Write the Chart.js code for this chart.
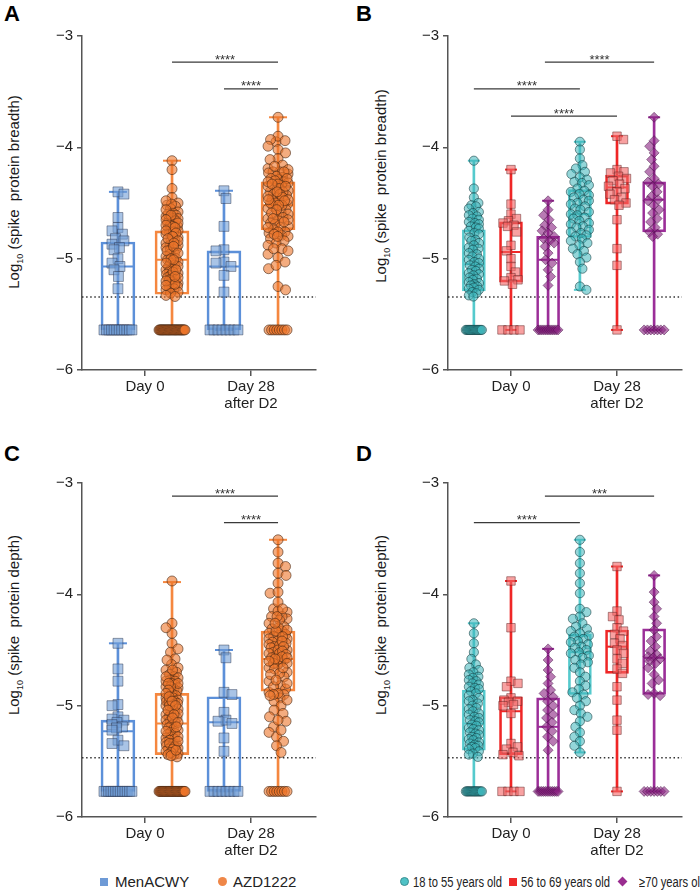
<!DOCTYPE html>
<html>
<head>
<meta charset="utf-8">
<script src="https://cdn.jsdelivr.net/npm/chart.js@4.4.0/dist/chart.umd.min.js"></script>
<style>
body { margin: 0; background: #fff; font-family: "Liberation Sans", Arial, sans-serif; }
#wrap { position: relative; width: 700px; height: 893px; overflow: hidden; }
canvas { position: absolute; }
.lt { position: absolute; font-weight: bold; font-size: 22px; color: #000; }
.yt { position: absolute; font-size: 15px; color: #1a1a1a; white-space: nowrap; transform: translate(-50%, -50%) rotate(-90deg); }
.yt sub { font-size: 9px; }
.lg { position: absolute; font-size: 15px; color: #222; white-space: nowrap; }
.nar { font-size: 14px; transform: scaleX(0.8); transform-origin: 0 50%; }
.mk { position: absolute; }
</style>
</head>
<body>
<div id="wrap">
  <div class="lt" style="left:4px;top:1px">A</div>
  <div class="lt" style="left:356px;top:1px">B</div>
  <div class="lt" style="left:4px;top:441px">C</div>
  <div class="lt" style="left:356px;top:441px">D</div>

  <div class="yt" style="left:15px;top:192px">Log<sub>10</sub> (spike&nbsp; protein breadth)</div>
  <div class="yt" style="left:382px;top:186px">Log<sub>10</sub> (spike&nbsp; protein breadth)</div>
  <div class="yt" style="left:15px;top:625px">Log<sub>10</sub> (spike&nbsp; protein depth)</div>
  <div class="yt" style="left:382px;top:625px">Log<sub>10</sub> (spike&nbsp; protein depth)</div>

  <canvas id="cA" width="350" height="420" style="left:0;top:0"></canvas>
  <canvas id="cB" width="350" height="420" style="left:350px;top:0"></canvas>
  <canvas id="cC" width="350" height="450" style="left:0;top:420px"></canvas>
  <canvas id="cD" width="350" height="450" style="left:350px;top:420px"></canvas>

  <!-- legends -->
  <div class="mk" style="left:100px;top:878px;width:8px;height:8px;background:#6e9ad6"></div>
  <div class="lg" style="left:115px;top:873px">MenACWY</div>
  <div class="mk" style="left:218px;top:877px;width:9px;height:9px;border-radius:50%;background:#ef8748"></div>
  <div class="lg" style="left:233px;top:873px">AZD1222</div>

  <div class="mk" style="left:400px;top:877px;width:9px;height:9px;border-radius:50%;background:#4fc2c6;box-sizing:border-box;border:1px solid #3a8f92"></div>
  <div class="lg nar" style="left:413px;top:874px">18 to 55 years old</div>
  <div class="mk" style="left:509px;top:878px;width:8px;height:8px;background:#ee2a2a"></div>
  <div class="lg nar" style="left:521px;top:874px">56 to 69 years old</div>
  <div class="mk" style="left:619px;top:878px;width:7px;height:7px;background:#9a2d90;transform:rotate(45deg)"></div>
  <div class="lg nar" style="left:639px;top:874px">&ge;70 years old</div>
</div>

<script>
// ---------- data: breadth (panels A, B) ----------
const menBreadthD0 = [-4.40, -4.42, -4.63, -4.72, -4.75, -4.78, -4.82, -4.84, -4.87, -4.90, -4.92, -5.00, -5.04, -5.07, -5.10, -5.16, -5.27,
  -5.64, -5.64, -5.64, -5.64, -5.64, -5.64, -5.64, -5.64, -5.64, -5.64, -5.64, -5.64];
const menBreadthD28 = [-4.39, -4.46, -4.71, -4.92, -4.93, -5.03, -5.04, -5.07, -5.15, -5.30,
  -5.64, -5.64, -5.64, -5.64, -5.64, -5.64, -5.64, -5.64];

const youngBreadthD0 = [-4.12, -4.37, -4.45, -4.50, -4.52, -4.53, -4.55, -4.58, -4.59, -4.61, -4.62, -4.64, -4.65, -4.67, -4.68, -4.69, -4.71, -4.72, -4.73,
  -4.75, -4.77, -4.78, -4.81, -4.83, -4.84, -4.86, -4.88, -4.90, -4.91, -4.92, -4.95, -4.96, -4.98, -5.00, -5.01, -5.03, -5.04,
  -5.06, -5.07, -5.09, -5.10, -5.11, -5.13, -5.14, -5.15, -5.17, -5.18, -5.19, -5.21, -5.22, -5.23, -5.24, -5.25, -5.26, -5.27, -5.28,
  -5.30, -5.31, -5.33, -5.34,
  -5.64, -5.64, -5.64, -5.64, -5.64, -5.64, -5.64, -5.64, -5.64, -5.64, -5.64, -5.64, -5.64, -5.64, -5.64];
const midBreadthD0 = [-4.20, -4.51, -4.60, -4.64, -4.66, -4.68, -4.70, -4.71, -4.76, -4.88, -4.93, -5.00, -5.07, -5.12, -5.17, -5.19, -5.20, -5.23,
  -5.64, -5.64, -5.64, -5.64];
const oldBreadthD0 = [-4.48, -4.56, -4.61, -4.65, -4.70, -4.72, -4.75, -4.77, -4.80, -4.82, -4.84, -4.86, -4.89, -4.95, -5.01, -5.04, -5.10, -5.16, -5.24,
  -5.64, -5.64, -5.64, -5.64, -5.64, -5.64, -5.64, -5.64, -5.64, -5.64, -5.64, -5.64];
const youngBreadthD28 = [-3.95, -4.02, -4.10, -4.16, -4.19, -4.22, -4.24, -4.27, -4.29, -4.31, -4.32, -4.34, -4.37, -4.39, -4.40, -4.42, -4.43, -4.45,
  -4.47, -4.48, -4.50, -4.51, -4.53, -4.55, -4.56, -4.58, -4.60, -4.61, -4.63, -4.64, -4.66, -4.68, -4.69, -4.71, -4.72, -4.74, -4.76, -4.77,
  -4.79, -4.80, -4.82, -4.84, -4.86, -4.88, -4.91, -4.93, -4.96, -4.99, -5.03, -5.09, -5.25, -5.28];
const midBreadthD28 = [-3.90, -3.93, -4.20, -4.22, -4.23, -4.26, -4.28, -4.30, -4.33, -4.35, -4.37, -4.40, -4.42, -4.45, -4.47, -4.50, -4.52,
  -4.65, -4.91, -5.06, -5.64];
const oldBreadthD28 = [-3.73, -3.94, -3.99, -4.05, -4.11, -4.17, -4.22, -4.28, -4.31, -4.33, -4.35, -4.40, -4.44, -4.47, -4.48, -4.52, -4.56,
  -4.59, -4.64, -4.67, -4.72, -4.76, -4.78, -4.80,
  -5.64, -5.64, -5.64, -5.64, -5.64, -5.64, -5.64];
// AZD1222 = all three age groups together
const azdBreadthD0 = [...youngBreadthD0, ...midBreadthD0, ...oldBreadthD0];
const azdBreadthD28 = [...youngBreadthD28, ...midBreadthD28, ...oldBreadthD28];

// ---------- data: depth (panels C, D) ----------
const menDepthD0 = [-4.44, -4.67, -4.78, -4.99, -5.00, -5.10, -5.12, -5.13, -5.15, -5.17, -5.19, -5.20, -5.22, -5.31, -5.34, -5.36,
  -5.77, -5.77, -5.77, -5.77, -5.77, -5.77, -5.77, -5.77, -5.77, -5.77, -5.77, -5.77, -5.77];
const menDepthD28 = [-4.50, -4.57, -4.88, -4.90, -5.06, -5.13, -5.14, -5.16, -5.29, -5.41,
  -5.77, -5.77, -5.77, -5.77, -5.77, -5.77, -5.77, -5.77];

const youngDepthD0 = [-4.26, -4.35, -4.44, -4.52, -4.58, -4.63, -4.66, -4.68, -4.70, -4.72, -4.74, -4.75, -4.77, -4.78, -4.80, -4.81, -4.83, -4.84, -4.85,
  -4.87, -4.89, -4.91, -4.93, -4.95, -4.96, -4.98, -5.00, -5.02, -5.03, -5.05, -5.07, -5.08, -5.10, -5.11, -5.13, -5.14, -5.15,
  -5.17, -5.18, -5.20, -5.21, -5.22, -5.24, -5.25, -5.26, -5.28, -5.29, -5.30, -5.31, -5.33, -5.34, -5.35, -5.36, -5.37, -5.38, -5.39,
  -5.41, -5.43, -5.44, -5.46,
  -5.77, -5.77, -5.77, -5.77, -5.77, -5.77, -5.77, -5.77, -5.77, -5.77, -5.77, -5.77, -5.77, -5.77, -5.77];
const midDepthD0 = [-3.88, -4.30, -4.78, -4.80, -4.83, -4.93, -4.95, -4.96, -4.97, -4.99, -5.00, -5.07, -5.34, -5.37, -5.39, -5.42, -5.44, -5.45,
  -5.77, -5.77, -5.77, -5.77];
const oldDepthD0 = [-4.49, -4.59, -4.68, -4.74, -4.80, -4.86, -4.89, -4.92, -4.96, -5.00, -5.04, -5.08, -5.11, -5.15, -5.19, -5.23, -5.28, -5.32, -5.40,
  -5.77, -5.77, -5.77, -5.77, -5.77, -5.77, -5.77, -5.77, -5.77, -5.77, -5.77, -5.77];
const youngDepthD28 = [-3.51, -3.62, -3.72, -3.81, -3.90, -3.99, -4.13, -4.16, -4.20, -4.22, -4.26, -4.29, -4.31, -4.33, -4.35, -4.37, -4.38,
  -4.40, -4.42, -4.43, -4.45, -4.47, -4.48, -4.50, -4.52, -4.53, -4.55, -4.57, -4.59, -4.61, -4.63, -4.66, -4.70, -4.74, -4.78, -4.82,
  -4.85, -4.88, -4.90, -4.93, -4.96, -5.00, -5.04, -5.07, -5.10, -5.14, -5.19, -5.24, -5.28, -5.32, -5.36, -5.42];
const midDepthD28 = [-3.75, -4.15, -4.20, -4.23, -4.30, -4.33, -4.36, -4.40, -4.44, -4.46, -4.50, -4.53, -4.58, -4.62, -4.67, -4.71, -4.83,
  -4.95, -5.13, -5.22, -5.77];
const oldDepthD28 = [-3.83, -3.98, -4.07, -4.13, -4.20, -4.26, -4.32, -4.38, -4.42, -4.47, -4.51, -4.54, -4.56, -4.57, -4.58, -4.60, -4.62,
  -4.66, -4.72, -4.77, -4.80, -4.89, -4.90, -4.91,
  -5.77, -5.77, -5.77, -5.77, -5.77, -5.77, -5.77];
const azdDepthD0 = [...youngDepthD0, ...midDepthD0, ...oldDepthD0];
const azdDepthD28 = [...youngDepthD28, ...midDepthD28, ...oldDepthD28];

// box stats: [min, q1, median, q3, max]
const menBreadthD0Box = [-5.64, -5.64, -5.07, -4.85, -4.40];
const azdBreadthD0Box = [-5.64, -5.32, -5.01, -4.75, -4.12];
const menBreadthD28Box = [-5.64, -5.64, -5.07, -4.93, -4.39];
const azdBreadthD28Box = [-5.64, -4.74, -4.52, -4.31, -3.73];
const youngBreadthD0Box = [-5.64, -5.29, -5.05, -4.74, -4.12];
const midBreadthD0Box = [-5.64, -5.21, -4.94, -4.67, -4.20];
const oldBreadthD0Box = [-5.64, -5.64, -5.01, -4.80, -4.48];
const youngBreadthD28Box = [-5.28, -4.81, -4.60, -4.38, -3.95];
const midBreadthD28Box = [-5.64, -4.51, -4.36, -4.25, -3.90];
const oldBreadthD28Box = [-5.64, -4.76, -4.47, -4.31, -3.73];

const menDepthD0Box = [-5.77, -5.77, -5.23, -5.13, -4.44];
const azdDepthD0Box = [-5.77, -5.44, -5.16, -4.89, -3.89];
const menDepthD28Box = [-5.77, -5.77, -5.15, -4.92, -4.50];
const azdDepthD28Box = [-5.77, -4.87, -4.58, -4.33, -3.51];
const youngDepthD0Box = [-5.77, -5.40, -5.16, -4.86, -4.26];
const midDepthD0Box = [-5.77, -5.44, -5.05, -4.92, -3.88];
const oldDepthD0Box = [-5.77, -5.77, -5.19, -4.93, -4.49];
const youngDepthD28Box = [-5.42, -4.90, -4.52, -4.36, -3.51];
const midDepthD28Box = [-5.77, -4.71, -4.47, -4.32, -3.75];
const oldDepthD28Box = [-5.77, -4.90, -4.57, -4.31, -3.83];

// assay floor (values placed below detection) and dotted detection limit
const floorBreadth = -5.64, limitBreadth = -5.344;
const floorDepth = -5.77, limitDepth = -5.467;

const xTickLabels = ['Day 0', ['Day 28', 'after D2']];
const yTicks = [-6, -5, -4, -3];

// significance: [from x, to x, y, label]
const sigA = [[0.255, 1.255, -3.235, '****'], [0.745, 1.255, -3.475, '****']];
const sigB = [[-0.35, 0.65, -3.475, '****'], [0, 1, -3.72, '****'], [0.32, 1.35, -3.235, '****']];
const sigC = [[0.255, 1.255, -3.117, '****'], [0.745, 1.255, -3.356, '****']];
const sigD = [[-0.35, 0.65, -3.356, '****'], [0.32, 1.35, -3.117, '***']];

// ---------- styles ----------
const BLUE = { line: '#5c90d9', fill: 'rgba(112,156,214,0.6)', edge: 'rgba(45,55,80,0.6)', shape: 'rect' };
const ORANGE = { line: '#f5873f', fill: 'rgba(236,116,42,0.6)', edge: 'rgba(70,40,20,0.75)', shape: 'circle' };
const CYAN = { line: '#55cacd', fill: 'rgba(60,180,186,0.55)', edge: 'rgba(20,60,62,0.7)', shape: 'circle' };
const RED = { line: '#ef2626', fill: 'rgba(244,104,104,0.62)', edge: 'rgba(90,30,30,0.6)', shape: 'rect' };
const PURPLE = { line: '#9b2e98', fill: 'rgba(136,34,128,0.6)', edge: 'rgba(70,20,70,0.6)', shape: 'rectRot' };

const X_MIN = -0.594, X_MAX = 1.613;
const PLOT_W = 234, PLOT_H = 334;
const pxX = PLOT_W / (X_MAX - X_MIN), pxY = PLOT_H / 3;

// simple beeswarm: floor values in a row, the rest pushed sideways until they fit
function swarm(vals, center, floor, spread, rowSpread, gap) {
  const out = new Array(vals.length);
  const row = [], rest = [];
  vals.forEach((v, i) => (v <= floor + 1e-9 ? row : rest).push(i));
  row.forEach((i, k) => {
    const n = row.length;
    const off = n > 1 ? -rowSpread + 2 * rowSpread * k / (n - 1) : 0;
    out[i] = { x: center + off / pxX, y: vals[i] };
  });
  rest.sort((a, b) => vals[b] - vals[a]);
  const placed = [];
  rest.forEach((i, k) => {
    const py = vals[i] * pxY;
    let best = 0, bestD = -1;
    search:
    for (let s = 0; s <= spread; s += 0.5) {
      const offs = s === 0 ? [0] : (k % 2 ? [s, -s] : [-s, s]);
      for (const off of offs) {
        let dmin = Infinity;
        for (const p of placed) {
          const d = Math.hypot(p.x - off, p.y - py);
          if (d < dmin) dmin = d;
        }
        if (dmin >= gap) { best = off; break search; }
        if (dmin > bestD) { bestD = dmin; best = off; }
      }
    }
    placed.push({ x: best, y: py });
    out[i] = { x: center + best / pxX, y: vals[i] };
  });
  return out;
}

const starPlugin = {
  id: 'stars',
  afterDatasetsDraw(chart, args, opts) {
    const { ctx, scales: { x, y } } = chart;
    ctx.save();
    ctx.font = '13px "Liberation Sans", Arial';
    ctx.fillStyle = '#333';
    ctx.textAlign = 'center';
    ctx.textBaseline = 'alphabetic';
    (opts.items || []).forEach(s => {
      ctx.fillText(s[3], x.getPixelForValue((s[0] + s[1]) / 2), y.getPixelForValue(s[2]) + 1.5);
    });
    ctx.restore();
  }
};

function makePanel(id, geo, groups, sig, floor, limit, st) {
  const datasets = [];
  groups.forEach(g => {
    const [mn, q1, med, q3, mx] = g.box;
    const c = g.col;
    datasets.push({
      type: 'scatter', order: 0,
      data: swarm(g.vals, g.x, floor, g.spread, g.row, st.gap),
      pointStyle: c.shape, pointRadius: st.r[c.shape],
      backgroundColor: c.fill, borderColor: c.edge, borderWidth: 0.8
    });
    datasets.push({
      type: 'scatter', order: 1, data: [{ x: g.x, y: med }],
      pointStyle: 'line', pointRadius: st.boxW / 2 - 1, borderColor: c.line, borderWidth: 2
    });
    datasets.push({
      type: 'scatter', order: 1, data: [{ x: g.x, y: mn }, { x: g.x, y: mx }],
      pointStyle: 'line', pointRadius: st.capR, borderColor: c.line, borderWidth: 2
    });
    datasets.push({
      type: 'bar', order: 2, grouped: false, data: [{ x: g.x, y: [q1, q3] }],
      barThickness: st.boxW, backgroundColor: 'rgba(0,0,0,0)', borderColor: c.line,
      borderWidth: 2, borderSkipped: false
    });
    datasets.push({
      type: 'bar', order: 3, grouped: false, data: [{ x: g.x, y: [mn, mx] }],
      barThickness: 2, backgroundColor: c.line, borderWidth: 0
    });
  });
  datasets.push({
    type: 'line', order: 4, data: [{ x: X_MIN, y: limit }, { x: X_MAX, y: limit }],
    borderColor: '#333', borderWidth: 1.5, borderDash: [1.5, 2.6], pointRadius: 0, fill: false
  });
  sig.forEach(s => datasets.push({
    type: 'line', order: 4, data: [{ x: s[0], y: s[2] }, { x: s[1], y: s[2] }],
    borderColor: '#3a3a3a', borderWidth: 1.3, pointRadius: 0, fill: false
  }));

  new Chart(document.getElementById(id), {
    type: 'bar',
    data: { datasets },
    plugins: [starPlugin],
    options: {
      responsive: false,
      animation: false,
      events: [],
      layout: { padding: { left: 0, top: geo.t, right: geo.w - geo.r, bottom: 0 } },
      plugins: { legend: { display: false }, tooltip: { enabled: false }, stars: { items: sig } },
      scales: {
        x: {
          type: 'linear', min: X_MIN, max: X_MAX, offset: false,
          afterFit: s => { s.height = geo.h - geo.b; },
          afterBuildTicks: s => { s.ticks = [{ value: 0 }, { value: 1 }]; },
          ticks: {
            autoSkip: false, maxRotation: 0, padding: 2, color: '#222',
            font: { family: '"Liberation Sans", Arial', size: 15, lineHeight: 1.15 },
            callback: v => xTickLabels[v]
          },
          grid: { drawOnChartArea: false, drawTicks: true, tickLength: 6, color: '#555', lineWidth: 1.5, offset: false },
          border: { display: true, color: '#555', width: 1.5 }
        },
        y: {
          type: 'linear', min: -6, max: -3,
          afterFit: s => { s.width = geo.l; },
          afterBuildTicks: s => { s.ticks = yTicks.map(v => ({ value: v })); },
          ticks: {
            padding: 4, color: '#222',
            font: { family: '"Liberation Sans", Arial', size: 15 },
            callback: v => '\u2212' + Math.abs(v)
          },
          grid: { drawOnChartArea: false, drawTicks: true, tickLength: 5, color: '#555', lineWidth: 1.5 },
          border: { display: true, color: '#555', width: 1.5 }
        }
      }
    }
  });
}

const stAC = { boxW: 34, capR: 9, gap: 8, r: { circle: 5, rect: 7, rectRot: 5 } };
const stBD = { boxW: 23, capR: 6, gap: 7, r: { circle: 4.6, rect: 6, rectRot: 5 } };

makePanel('cA', { w: 350, h: 420, l: 82, r: 316, t: 36, b: 370 }, [
  { vals: menBreadthD0, box: menBreadthD0Box, x: -0.255, col: BLUE, spread: 6, row: 14 },
  { vals: azdBreadthD0, box: azdBreadthD0Box, x: 0.255, col: ORANGE, spread: 6, row: 13 },
  { vals: menBreadthD28, box: menBreadthD28Box, x: 0.745, col: BLUE, spread: 8, row: 14 },
  { vals: azdBreadthD28, box: azdBreadthD28Box, x: 1.255, col: ORANGE, spread: 10, row: 9 }
], sigA, floorBreadth, limitBreadth, stAC);

makePanel('cB', { w: 350, h: 420, l: 98, r: 332, t: 36, b: 370 }, [
  { vals: youngBreadthD0, box: youngBreadthD0Box, x: -0.35, col: CYAN, spread: 5, row: 8 },
  { vals: midBreadthD0, box: midBreadthD0Box, x: 0, col: RED, spread: 8, row: 9 },
  { vals: oldBreadthD0, box: oldBreadthD0Box, x: 0.35, col: PURPLE, spread: 6, row: 10 },
  { vals: youngBreadthD28, box: youngBreadthD28Box, x: 0.65, col: CYAN, spread: 9, row: 0 },
  { vals: midBreadthD28, box: midBreadthD28Box, x: 1, col: RED, spread: 10, row: 0 },
  { vals: oldBreadthD28, box: oldBreadthD28Box, x: 1.35, col: PURPLE, spread: 6, row: 10 }
], sigB, floorBreadth, limitBreadth, stBD);

makePanel('cC', { w: 350, h: 450, l: 82, r: 316, t: 63, b: 397 }, [
  { vals: menDepthD0, box: menDepthD0Box, x: -0.255, col: BLUE, spread: 6, row: 14 },
  { vals: azdDepthD0, box: azdDepthD0Box, x: 0.255, col: ORANGE, spread: 6, row: 13 },
  { vals: menDepthD28, box: menDepthD28Box, x: 0.745, col: BLUE, spread: 8, row: 14 },
  { vals: azdDepthD28, box: azdDepthD28Box, x: 1.255, col: ORANGE, spread: 9, row: 9 }
], sigC, floorDepth, limitDepth, stAC);

makePanel('cD', { w: 350, h: 450, l: 98, r: 332, t: 63, b: 397 }, [
  { vals: youngDepthD0, box: youngDepthD0Box, x: -0.35, col: CYAN, spread: 5, row: 8 },
  { vals: midDepthD0, box: midDepthD0Box, x: 0, col: RED, spread: 8, row: 9 },
  { vals: oldDepthD0, box: oldDepthD0Box, x: 0.35, col: PURPLE, spread: 6, row: 10 },
  { vals: youngDepthD28, box: youngDepthD28Box, x: 0.65, col: CYAN, spread: 9, row: 0 },
  { vals: midDepthD28, box: midDepthD28Box, x: 1, col: RED, spread: 10, row: 0 },
  { vals: oldDepthD28, box: oldDepthD28Box, x: 1.35, col: PURPLE, spread: 6, row: 10 }
], sigD, floorDepth, limitDepth, stBD);
</script>
</body>
</html>
